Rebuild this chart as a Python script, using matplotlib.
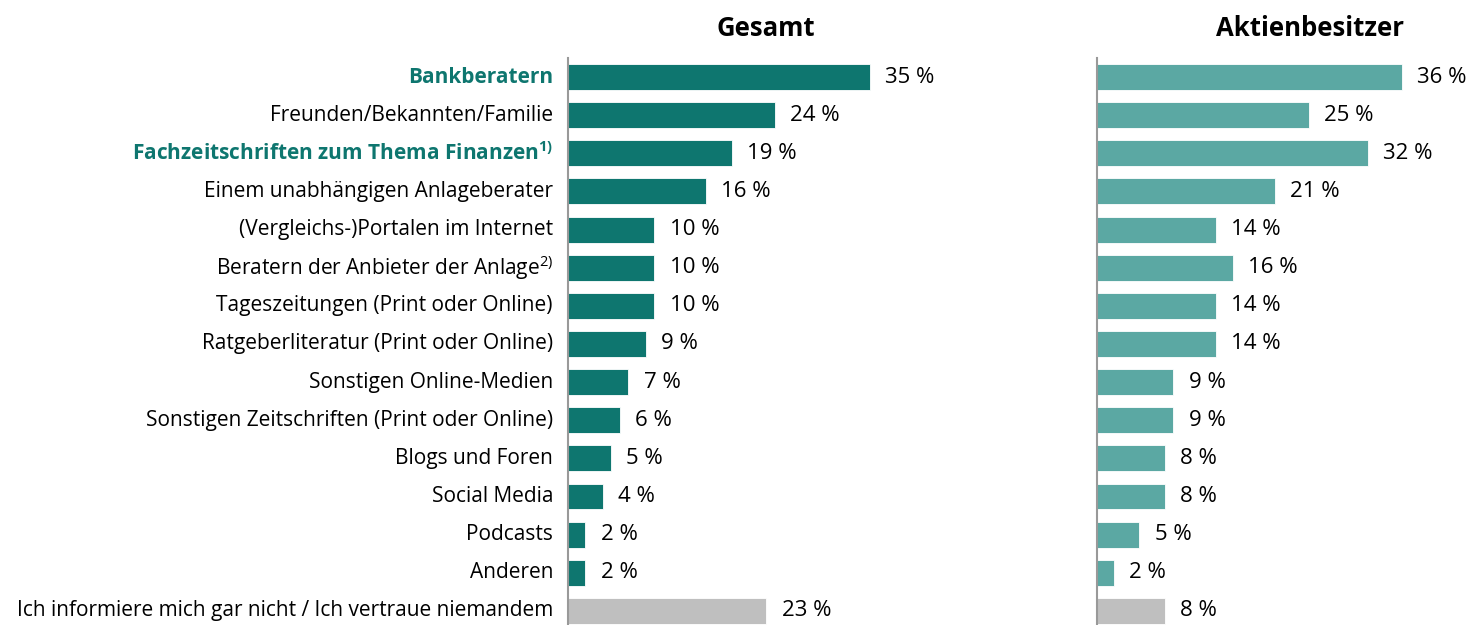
import matplotlib.pyplot as plt

# data
categories = ['Bankberatern', 'Freunden/Bekannten/Familie',
              'Fachzeitschriften zum Thema Finanzen', 'Einem unabhängigen Anlageberater',
              '(Vergleichs-)Portalen im Internet', 'Beratern der Anbieter der Anlage',
              'Tageszeitungen (Print oder Online)', 'Ratgeberliteratur (Print oder Online)',
              'Sonstigen Online-Medien', 'Sonstigen Zeitschriften (Print oder Online)',
              'Blogs und Foren', 'Social Media', 'Podcasts', 'Anderen',
              'Ich informiere mich gar nicht / Ich vertraue niemandem']
footnotes = ['', '', '1)', '', '', '2)', '', '', '', '', '', '', '', '', '']
highlighted = ['Bankberatern', 'Fachzeitschriften zum Thema Finanzen']
gesamt = [35, 24, 19, 16, 10, 10, 10, 9, 7, 6, 5, 4, 2, 2, 23]
aktienbesitzer = [36, 25, 32, 21, 14, 16, 14, 14, 9, 9, 8, 8, 5, 2, 8]

DARK = '#0E766F'
LIGHT = '#5BA8A3'
GREY = '#BFBFBF'

plt.rcParams['font.family'] = ['Open Sans', 'DejaVu Sans']
plt.rcParams['mathtext.fontset'] = 'custom'
plt.rcParams['mathtext.rm'] = 'Open Sans'
plt.rcParams['mathtext.bf'] = 'Open Sans:bold'

W, H = 1472, 625
fig = plt.figure(figsize=(W / 100, H / 100), dpi=100)

# axes placed in pixel terms
ax1 = fig.add_axes([568 / W, 0, 345 / W, (625 - 58) / H])
ax2 = fig.add_axes([1097 / W, 0, 339 / W, (625 - 58) / H])

ypos = list(range(len(categories)))


def draw_panel(ax, values, color, title, title_dx):
    colors = [color] * (len(values) - 1) + [GREY]
    bars = ax.barh(ypos, values, height=0.68, color=colors,
                   edgecolor='white', linewidth=0.6)
    ax.bar_label(bars, labels=[f'{v} %' for v in values], padding=11,
                 fontsize=16, color='black')
    ax.set_xlim(0, 40)
    ax.set_ylim(14.37, -0.5)
    for s in ['top', 'right', 'bottom']:
        ax.spines[s].set_visible(False)
    ax.spines['left'].set_color('#999999')
    ax.spines['left'].set_linewidth(1.5)
    ax.set_xticks([])
    ax.set_yticks([])
    fig.text(ax.get_position().x0 + title_dx / W, 1 - 28 / H, title,
             ha='center', va='center', fontsize=18.5, fontweight='bold')


draw_panel(ax1, gesamt, DARK, 'Gesamt', 198)
draw_panel(ax2, aktienbesitzer, LIGHT, 'Aktienbesitzer', 213)

# category labels
for i, (cat, fn) in enumerate(zip(categories, footnotes)):
    bold = cat in highlighted
    txt = cat
    if fn:
        if bold:
            txt += r'$^{\mathbf{' + fn + '}}$'
        else:
            txt += r'$^{\mathrm{' + fn + '}}$'
    ax1.text(-15 / 345 * 40, i, txt, ha='right', va='center', fontsize=15,
             color=DARK if bold else 'black',
             fontweight='bold' if bold else 'normal')

fig.savefig('out.png', dpi=100)
